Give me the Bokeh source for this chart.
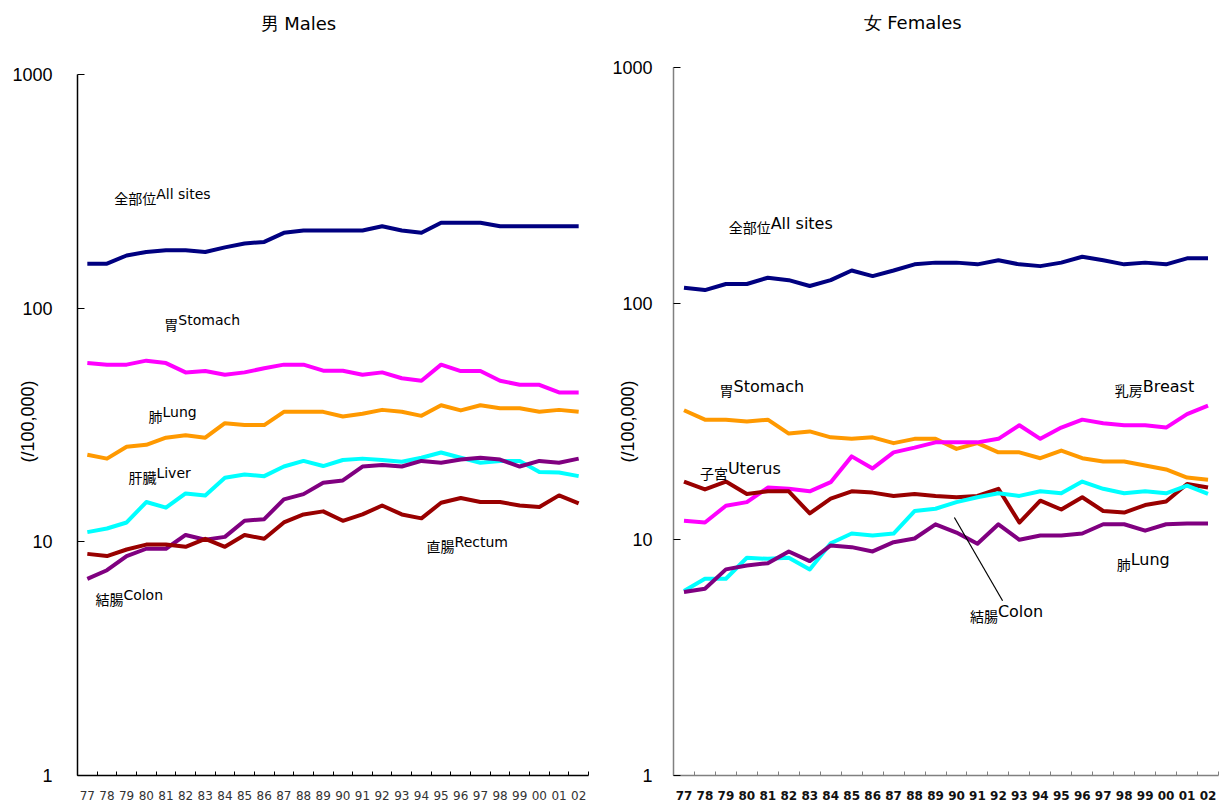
from bokeh.plotting import figure
from bokeh.layouts import row
from bokeh.models import FixedTicker
from bokeh.core.properties import value
from bokeh.embed import file_html
from bokeh.resources import INLINE

years = ["77", "78", "79", "80", "81", "82", "83", "84", "85", "86", "87", "88", "89",
         "90", "91", "92", "93", "94", "95", "96", "97", "98", "99", "00", "01", "02"]
y_ticks = [1, 10, 100, 1000]
y_tick_labels = ["1", "10", "100", "1000"]

# Males (per 100,000)
m_all = [155, 155, 168, 174, 177, 177, 174, 182, 189, 192, 210, 215, 215,
         215, 215, 224, 215, 210, 232, 232, 232, 224, 224, 224, 224, 224]
m_stomach = [58.2, 57.3, 57.3, 59.6, 58.2, 53.1, 53.8, 51.9, 53.1, 55.3, 57.3, 57.3, 54.0,
             54.0, 51.9, 53.1, 50.1, 48.9, 57.3, 53.8, 53.8, 48.9, 47.0, 47.0, 43.6, 43.6]
m_lung = [23.6, 22.7, 25.5, 26.0, 27.9, 28.6, 27.9, 32.2, 31.6, 31.6, 36.0, 36.0, 36.0,
          34.4, 35.3, 36.7, 36.0, 34.6, 38.4, 36.5, 38.4, 37.3, 37.3, 36.0, 36.7, 36.0]
m_liver = [11.0, 11.4, 12.1, 14.8, 14.0, 16.1, 15.8, 18.8, 19.4, 19.1, 21.0, 22.2, 21.1,
           22.4, 22.7, 22.4, 22.0, 22.9, 24.1, 22.9, 21.8, 22.2, 22.2, 19.9, 19.8, 19.1]
m_colon = [6.94, 7.56, 8.69, 9.34, 9.34, 10.7, 10.2, 10.5, 12.3, 12.5, 15.2, 16.0, 17.9,
           18.3, 21.0, 21.3, 21.0, 22.2, 21.8, 22.5, 22.9, 22.5, 21.0, 22.2, 21.8, 22.7]
m_rectum = [8.88, 8.69, 9.27, 9.73, 9.73, 9.52, 10.3, 9.52, 10.7, 10.3, 12.1, 13.1, 13.5,
            12.3, 13.1, 14.3, 13.1, 12.6, 14.7, 15.4, 14.8, 14.8, 14.3, 14.1, 15.8, 14.6]

# Females (per 100,000)
f_all = [116.7, 114, 121, 121, 128.6, 125.6, 118.6, 125.6, 138, 130.7, 138, 146.5, 149,
         149, 146.5, 152.4, 146.5, 144, 149, 157.8, 152.4, 146.5, 149, 146.5, 155.4, 155.4]
f_stomach = [35.3, 32.2, 32.2, 31.6, 32.2, 28.1, 28.7, 27.1, 26.7, 27.1, 25.6, 26.7, 26.7,
             24.2, 25.6, 23.4, 23.4, 22.1, 23.8, 22.1, 21.4, 21.4, 20.6, 19.8, 18.3, 17.9]
f_breast = [12.0, 11.8, 13.9, 14.4, 16.6, 16.4, 16.0, 17.5, 22.5, 20.0, 23.4, 24.5, 25.8,
            25.8, 25.8, 26.7, 30.5, 26.7, 29.8, 32.2, 31.1, 30.5, 30.5, 29.8, 34.0, 36.9]
f_uterus = [17.6, 16.3, 17.6, 15.6, 16.0, 16.0, 12.9, 14.9, 16.0, 15.8, 15.3, 15.6, 15.3,
            15.1, 15.3, 16.4, 11.8, 14.6, 13.4, 15.1, 13.2, 13.0, 14.0, 14.5, 17.2, 16.6]
f_colon = [6.05, 6.82, 6.82, 8.37, 8.28, 8.37, 7.47, 9.64, 10.6, 10.4, 10.6, 13.2, 13.5,
           14.4, 15.1, 15.7, 15.3, 16.0, 15.7, 17.6, 16.4, 15.7, 16.0, 15.7, 16.9, 15.6]
f_lung = [5.99, 6.19, 7.47, 7.76, 7.94, 8.90, 8.10, 9.44, 9.28, 8.90, 9.74, 10.1, 11.6,
          10.7, 9.59, 11.6, 9.97, 10.4, 10.4, 10.6, 11.6, 11.6, 10.9, 11.6, 11.7, 11.7]

NAVY, MAGENTA, ORANGE, CYAN, PURPLE, MAROON = "#000080", "#FF00FF", "#FF9900", "#00FFFF", "#800080", "#990000"

CJK = value("Noto Sans CJK JP")
LAT = value("DejaVu Sans")

xs = list(range(len(years)))


def make_fig(width, y_top, mb_left, mb_right, title, title_offset, title_standoff,
             axis_color, xlab_style, xlab_color, ylab_standoff, ylabel_standoff):
    p = figure(width=width, height=804, y_axis_type="log", x_range=(-0.5, len(years) - 0.5),
               y_range=(1, y_top), output_backend="svg", toolbar_location=None,
               min_border_left=mb_left, min_border_right=mb_right,
               min_border_top=66, min_border_bottom=29, title=title + "\n")
    p.outline_line_color = None
    p.xgrid.visible = False
    p.ygrid.visible = False
    p.background_fill_color = "white"
    p.border_fill_color = "white"

    p.title.text_font = "DejaVu Sans"
    p.title.text_font_size = "18px"
    p.title.text_font_style = "normal"
    p.title.text_color = "black"
    p.title.align = "left"
    p.title.vertical_align = "top"
    p.title.offset = title_offset
    p.title.standoff = title_standoff

    xa = p.xaxis[0]
    xa.ticker = FixedTicker(ticks=xs, minor_ticks=[i - 0.5 for i in range(len(years) + 1)])
    xa.major_label_overrides = {i: s for i, s in enumerate(years)}
    xa.major_tick_in = 0
    xa.major_tick_out = 0
    xa.minor_tick_in = 4
    xa.minor_tick_out = 0
    xa.minor_tick_line_color = axis_color
    xa.axis_line_color = axis_color
    xa.axis_line_width = 1.5
    xa.major_label_text_font = "DejaVu Sans"
    xa.major_label_text_font_size = "12px"
    xa.major_label_text_font_style = xlab_style
    xa.major_label_text_color = xlab_color
    xa.major_label_standoff = 15

    ya = p.yaxis[0]
    ya.ticker = FixedTicker(ticks=y_ticks, minor_ticks=[])
    ya.major_label_overrides = {v: s for v, s in zip(y_ticks, y_tick_labels)}
    ya.bounds = (1, 1000)
    ya.major_tick_in = 7
    ya.major_tick_out = 0
    ya.major_tick_line_color = "black"
    ya.axis_line_color = axis_color
    ya.axis_line_width = 1.5
    ya.major_label_text_font = "Liberation Sans"
    ya.major_label_text_font_size = "18px"
    ya.major_label_text_color = "black"
    ya.major_label_standoff = ylab_standoff
    ya.axis_label = "(/100,000)"
    ya.axis_label_text_font = "Liberation Sans"
    ya.axis_label_text_font_size = "18px"
    ya.axis_label_text_font_style = "normal"
    ya.axis_label_text_color = "black"
    ya.axis_label_standoff = ylabel_standoff
    return p


def add_labels(p, lx, ly, cjk, lat, lat_size, cjk_n):
    p.text(x=lx, y=ly, text=cjk, text_font=CJK, text_font_size="14px",
           text_baseline="middle", text_align="left", text_color="black")
    p.text(x=lx, y=ly, text=lat, text_font=LAT, text_font_size=lat_size,
           text_baseline="middle", text_align="left", text_color="black",
           x_offset=[n * 14 for n in cjk_n], y_offset=-4)


# ---------------- Males ----------------
pm = make_fig(600, 1071, 77, 12, "男 Males", 183, 22, "black", "normal", "#333333", 25, -29)
for ys, c in [(m_all, NAVY), (m_stomach, MAGENTA), (m_lung, ORANGE), (m_liver, CYAN),
              (m_colon, PURPLE), (m_rectum, MAROON)]:
    pm.line(xs, ys, line_color=c, line_width=4, line_join="round")

m_lab_x = [1.37, 3.92, 3.11, 2.09, 17.26, 0.41]
m_lab_y = [296, 85.4, 34.7, 19.0, 9.61, 5.69]
m_lab_cjk = ["全部位", "胃", "肺", "肝臓", "直腸", "結腸"]
m_lab_lat = ["All sites", "Stomach", "Lung", "Liver", "Rectum", "Colon"]
add_labels(pm, m_lab_x, m_lab_y, m_lab_cjk, m_lab_lat, "14px", [len(s) for s in m_lab_cjk])

# ---------------- Females ----------------
pf = make_fig(620, 1000, 73, 2, "女 Females", 190, 23, "#808080", "bold", "#111111", 21, -29)
for ys, c in [(f_all, NAVY), (f_stomach, ORANGE), (f_breast, MAGENTA), (f_uterus, MAROON),
              (f_colon, CYAN), (f_lung, PURPLE)]:
    pf.line(xs, ys, line_color=c, line_width=4, line_join="round")

f_lab_x = [2.13, 1.70, 20.55, 0.76, 20.64, 13.64]
f_lab_y = [210.5, 43.0, 43.0, 19.2, 7.89, 4.75]
f_lab_cjk = ["全部位", "胃", "乳房", "子宮", "肺", "結腸"]
f_lab_lat = ["All sites", "Stomach", "Breast", "Uterus", "Lung", "Colon"]
add_labels(pf, f_lab_x, f_lab_y, f_lab_cjk, f_lab_lat, "16px", [len(s) for s in f_lab_cjk])

leader_x = [12.9, 15.2]
leader_y = [12.4, 5.5]
pf.line(leader_x, leader_y, line_color="black", line_width=1.2)

layout = row(pm, pf)
open("out.html", "w").write(file_html(layout, INLINE))
